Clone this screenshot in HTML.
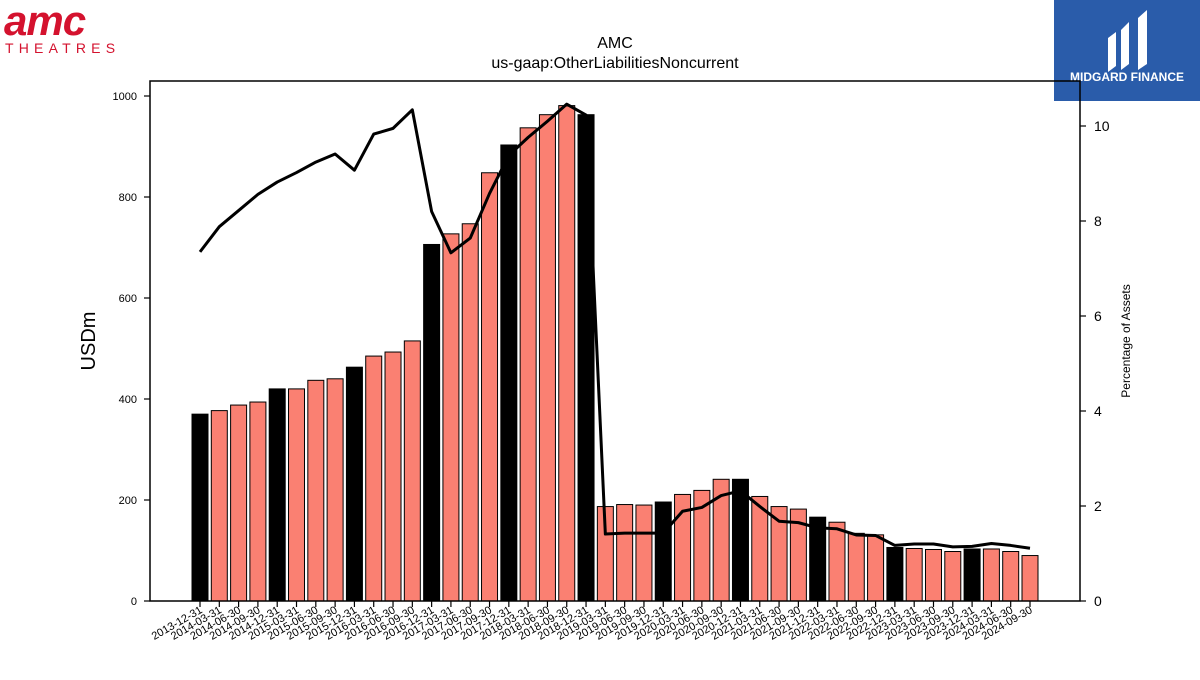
<!DOCTYPE html>
<html><head><meta charset="utf-8"><style>
body{margin:0;background:#fff;font-family:"Liberation Sans",sans-serif}
svg text{font-family:"Liberation Sans",sans-serif}
</style></head><body>
<svg width="1200" height="675" viewBox="0 0 1200 675" xmlns="http://www.w3.org/2000/svg">
<g>
<text x="4" y="35" font-size="42" font-weight="bold" fill="#d4122e" font-style="italic" letter-spacing="-1">amc</text>
<text x="5" y="53" font-size="14" fill="#d4122e" letter-spacing="5.2">THEATRES</text>
</g>
<g>
<rect x="1054" y="0" width="146" height="101" fill="#2a5caa"/>
<path d="M1108 38 L1116 32 L1116 66 L1108 72 Z M1121 30 L1129 22 L1129 64 L1121 70 Z M1138 18 L1147 10 L1147 64 L1138 70 Z" fill="#fff"/>
<text x="1127" y="81" font-size="12" font-weight="bold" fill="#fff" text-anchor="middle">MIDGARD FINANCE</text>
</g>
<text x="615" y="48" font-size="16" text-anchor="middle">AMC</text>
<text x="615" y="68" font-size="16" text-anchor="middle">us-gaap:OtherLiabilitiesNoncurrent</text>
<g id="bars"></g><g id="line"></g><g id="axes"></g>
<rect x="150" y="81" width="930" height="520" fill="none" stroke="#000" stroke-width="1.5"/>
<text x="95" y="341" font-size="20" text-anchor="middle" transform="rotate(-90 95 341)">USDm</text>
<text x="1130" y="341" font-size="12" text-anchor="middle" transform="rotate(-90 1130 341)">Percentage of Assets</text>
</svg>
<script>
const dates=["2013-12-31","2014-03-31","2014-06-30","2014-09-30","2014-12-31","2015-03-31","2015-06-30","2015-09-30","2015-12-31","2016-03-31","2016-06-30","2016-09-30","2016-12-31","2017-03-31","2017-06-30","2017-09-30","2017-12-31","2018-03-31","2018-06-30","2018-09-30","2018-12-31","2019-03-31","2019-06-30","2019-09-30","2019-12-31","2020-03-31","2020-06-30","2020-09-30","2020-12-31","2021-03-31","2021-06-30","2021-09-30","2021-12-31","2022-03-31","2022-06-30","2022-09-30","2022-12-31","2023-03-31","2023-06-30","2023-09-30","2023-12-31","2024-03-31","2024-06-30","2024-09-30"];
const values=[370,377,388,394,420,420,437,440,463,485,493,515,706,727,747,848,903,937,963,981,963,187,191,190,196,211,219,241,241,207,187,182,166,156,134,131,106,104,102,98,103,103,98,90];
const pct=[7.35,7.88,8.22,8.56,8.82,9.02,9.24,9.41,9.07,9.83,9.95,10.34,8.2,7.33,7.64,8.58,9.38,9.76,10.1,10.46,10.23,1.41,1.43,1.43,1.43,1.89,1.97,2.22,2.32,1.99,1.68,1.65,1.54,1.52,1.39,1.38,1.17,1.2,1.2,1.14,1.15,1.21,1.17,1.11];
const yTicks=[0,200,400,600,800,1000];
const y2Ticks=[0,2,4,6,8,10];
const NS="http://www.w3.org/2000/svg";
const X=i=>200+i*(830/43);
const Y=v=>601-v*0.505;
const Y2=v=>601-v*47.5;
function mk(t,a,p){const e=document.createElementNS(NS,t);for(const k in a)e.setAttribute(k,a[k]);p.appendChild(e);return e;}
const bars=document.getElementById('bars'),line=document.getElementById('line'),axes=document.getElementById('axes');
values.forEach((v,i)=>{
 const q4=dates[i].endsWith("12-31");
 const r=mk('rect',{x:X(i)-8,y:Y(v),width:16,height:601-Y(v),fill:q4?'#000':'#fa8072',stroke:'#000','stroke-width':1},bars);
 
 
 const t=mk('line',{x1:X(i),x2:X(i),y1:601,y2:607,stroke:'#000','stroke-width':1.2},axes);
 
 
 const lx=X(i)+3,ly=612;
 const lb=mk('text',{x:lx,y:ly,'font-size':11,'text-anchor':'end',transform:`rotate(-30 ${lx} ${ly})`},axes);
 lb.textContent=dates[i];
 
 
});
const pl=mk('polyline',{points:pct.map((p,i)=>X(i)+','+Y2(p)).join(' '),fill:'none',stroke:'#000','stroke-width':3,'stroke-linejoin':'round'},line);


yTicks.forEach(v=>{
 mk('line',{x1:144,x2:150,y1:Y(v),y2:Y(v),stroke:'#000','stroke-width':1.2},axes);
 const t=mk('text',{x:137,y:Y(v)+4,'font-size':11,'text-anchor':'end'},axes);
 t.textContent=v;
 
 
});
y2Ticks.forEach(v=>{
 mk('line',{x1:1080,x2:1086,y1:Y2(v),y2:Y2(v),stroke:'#000','stroke-width':1.2},axes);
 const t=mk('text',{x:1094,y:Y2(v)+5,'font-size':14},axes);
 t.textContent=v;
 
 
});
</script>
</body></html>
